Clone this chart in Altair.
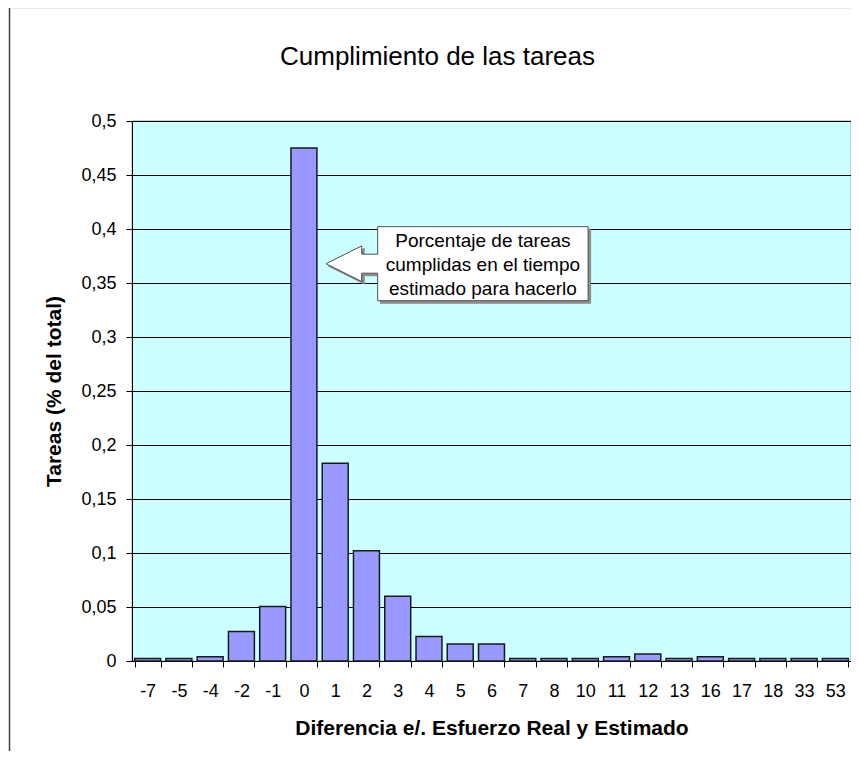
import altair as alt
import pandas as pd

# ---- data ----
categories = ["-7", "-5", "-4", "-2", "-1", "0", "1", "2", "3", "4", "5", "6",
              "7", "8", "10", "11", "12", "13", "16", "17", "18", "33", "53"]
shares = [0.0022, 0.0022, 0.0040, 0.0272, 0.0505, 0.475, 0.183, 0.102, 0.060,
          0.0228, 0.0157, 0.0157, 0.0022, 0.0022, 0.0022, 0.0040, 0.0065,
          0.0022, 0.0040, 0.0022, 0.0022, 0.0022, 0.0022]
y_ticks = [0, 0.05, 0.1, 0.15, 0.2, 0.25, 0.3, 0.35, 0.4, 0.45, 0.5]
callout_lines = ["Porcentaje de tareas", "cumplidas en el tiempo", "estimado para hacerlo"]

title_text = "Cumplimiento de las tareas"
x_title = "Diferencia e/. Esfuerzo Real y Estimado"
y_title = "Tareas (% del total)"

FONT = "Liberation Sans"
W, H = 719, 540

df = pd.DataFrame({"cat": categories, "share": shares})

bars = alt.Chart(df).mark_bar(
    fill="#9999FF", stroke="#1a1a1a", strokeWidth=1.5
).encode(
    x=alt.X("cat:N", sort=categories,
            scale=alt.Scale(paddingInner=0.17, paddingOuter=0.085),
            axis=alt.Axis(title=x_title, labelAngle=0, tickBand="extent",
                          tickSize=6, labelPadding=15, labelFontSize=18,
                          labelColor="black", domainColor="black",
                          tickColor="black", titleFontSize=21,
                          titleFontWeight="bold", titleColor="black",
                          titleBaseline="alphabetic", titleY=73,
                          titleX=W / 2, grid=False)),
    y=alt.Y("share:Q",
            scale=alt.Scale(domain=[0, 0.5], nice=False, zero=True),
            axis=alt.Axis(title=y_title, values=y_ticks,
                          labelExpr="replace(format(datum.value, '.2~f'), '.', ',')",
                          grid=True, gridColor="black", gridWidth=1,
                          tickSize=6, labelPadding=10, labelFontSize=18,
                          labelColor="black", domainColor="black",
                          tickColor="black", titleFontSize=21,
                          titleFontWeight="bold", titleColor="black",
                          titleBaseline="middle", titleX=-78, titleY=H / 2,
                          titleAngle=270)),
)

one = alt.Data(values=[{"k": 1}])

# outer chart-area frame (left and top edges)
frame_left = alt.Chart(one).mark_rule(color="#404040", strokeWidth=1.5).encode(
    x=alt.value(-122.5), y=alt.value(-114), y2=alt.value(640))
frame_top = alt.Chart(one).mark_rule(color="#a8a8a8", strokeWidth=1.5).encode(
    x=alt.value(-122.5), x2=alt.value(740), y=alt.value(-113.5))

# left-arrow callout shape (path units = pixels with size=4)
callout_path = ("M -105.2 -37 L 105.2 -37 L 105.2 37 L -105.2 37 L -105.2 9.5 "
                "L -121.2 9.5 L -121.2 17.8 L -156.9 0 L -121.2 -17.8 "
                "L -121.2 -9.5 L -105.2 -9.5 Z")
CX, CY = 350.9, 142.7

shadow = alt.Chart(one).mark_point(
    shape=callout_path, size=4, filled=True, fill="#8c8c8c", stroke="#8c8c8c",
    strokeWidth=1, opacity=1
).encode(x=alt.value(CX + 2.5), y=alt.value(CY + 2.5))

box = alt.Chart(one).mark_point(
    shape=callout_path, size=4, filled=True, fill="white", stroke="#505050",
    strokeWidth=1, opacity=1
).encode(x=alt.value(CX), y=alt.value(CY))

callout_text = alt.Chart(one).mark_text(
    text=callout_lines, align="center", baseline="middle", fontSize=19,
    lineHeight=24, font=FONT, color="black"
).encode(x=alt.value(CX), y=alt.value(CY + 1 - 24))

chart = alt.layer(
    frame_left, frame_top, bars, shadow, box, callout_text
).properties(
    width=W, height=H,
    title=alt.TitleParams(title_text, fontSize=26, fontWeight="normal",
                          font=FONT, color="black", anchor="middle",
                          dx=-54, offset=-85, baseline="alphabetic"),
    autosize=alt.AutoSizeParams(type="none"),
    padding={"left": 124, "top": 113, "right": 0, "bottom": 90},
    background="white",
).configure(
    font=FONT
).configure_view(
    fill="#CCFFFF", stroke="#A0A0A0", strokeWidth=1.3
).configure_axis(
    labelFont=FONT, titleFont=FONT
)

chart.save("out.html", embed_options={"renderer": "svg", "actions": False})
